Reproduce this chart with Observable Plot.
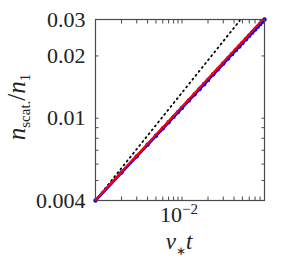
<!DOCTYPE html>
<html><head><meta charset="utf-8">
<script src="https://cdn.jsdelivr.net/npm/d3@7"></script>
<script src="https://cdn.jsdelivr.net/npm/@observablehq/plot@0.6"></script>
<style>body{margin:0;background:#fff}</style>
</head><body><div id="chart"></div>
<script>
// Blue series (simulation markers)
const blueT = [0.001,0.002,0.003,0.004,0.005,0.006,0.007,0.008,0.009,0.010,0.012,0.014,0.016,0.018,0.020,0.023,0.026,0.030,0.034,0.038,0.042,0.046,0.050,0.055,0.060,0.065,0.070,0.075,0.080,0.085,0.090];
const blueN = [0.00400,0.00546,0.00654,0.00744,0.00823,0.00893,0.00956,0.01015,0.01070,0.01122,0.01218,0.01305,0.01385,0.01460,0.01531,0.01630,0.01722,0.01836,0.01942,0.02041,0.02134,0.02223,0.02308,0.02408,0.02504,0.02596,0.02683,0.02767,0.02848,0.02927,0.03000];
// Red fit line
const redT = [0.001, 0.086];
const redN = [0.00402, 0.03000];
// Black dotted reference line
const dotT = [0.001, 0.0465];
const dotN = [0.00400, 0.02960];
// Ticks
const xMinorTicks = [0.002,0.003,0.004,0.005,0.006,0.007,0.008,0.009,0.02,0.03,0.04,0.05,0.06,0.07,0.08,0.09];
const xMajorTicks = [0.01];
const yMinorTicks = [0.005,0.006,0.007,0.008,0.009];
const yMajorTicks = [0.004,0.01,0.02,0.03];

const blue = blueT.map((t,i)=>({t, n: blueN[i]}));
const red = redT.map((t,i)=>({t, n: redN[i]}));
const dot = dotT.map((t,i)=>({t, n: dotN[i]}));

const serif = "Liberation Serif";
const axColor = "#4a4a4a";
const xAll = xMinorTicks.concat(xMajorTicks);
const yAll = yMinorTicks.concat(yMajorTicks);

const chart = Plot.plot({
  width: 291, height: 267,
  marginLeft: 95, marginRight: 27, marginTop: 19, marginBottom: 67,
  x: {type: "log", domain: [0.001, 0.09], label: null},
  y: {type: "log", domain: [0.004, 0.03], label: null},
  style: {background: "white", fontFamily: serif},
  marks: [
    Plot.line(dot, {x: "t", y: "n", stroke: "black", strokeWidth: 1.8, strokeDasharray: "1.2,3.8"}),
    Plot.line(blue, {x: "t", y: "n", stroke: "#0000ff", strokeWidth: 3}),
    Plot.dot(blue, {x: "t", y: "n", r: 2.2, fill: "#0000ff", stroke: null}),
    Plot.line(red, {x: "t", y: "n", stroke: "#ff0000", strokeWidth: 2.2}),
    Plot.frame({stroke: axColor, strokeWidth: 1.2}),
    Plot.axisX(xAll, {anchor: "bottom", tickSize: -3.5, tickFormat: () => "", stroke: axColor}),
    Plot.axisX(xAll, {anchor: "top", tickSize: -3.5, tickFormat: () => "", stroke: axColor}),
    Plot.axisY(yAll, {anchor: "left", tickSize: -3.5, tickFormat: () => "", stroke: axColor}),
    Plot.axisY(yAll, {anchor: "right", tickSize: -3.5, tickFormat: () => "", stroke: axColor}),
    Plot.axisY(yMajorTicks, {anchor: "left", tickSize: 0, tickPadding: 10, tickFormat: d => String(d), fontSize: 22, fontFamily: serif, fill: "#222"}),
    Plot.text(xMajorTicks, {x: d => d, frameAnchor: "bottom", dy: 21, text: () => "10", textAnchor: "end", fontSize: 22, fontFamily: serif, fill: "#222"}),
    Plot.text(xMajorTicks, {x: d => d, frameAnchor: "bottom", dy: 13, text: () => "\u22122", textAnchor: "start", fontSize: 15, fontFamily: serif, fill: "#222"})
  ]
});
document.getElementById("chart").appendChild(chart);

const svg = d3.select(chart);
// x label: ν* t
const xl = svg.append("text").attr("x", 179).attr("y", 249).attr("text-anchor", "middle")
  .attr("font-family", serif).attr("font-size", 23).attr("fill", "#222");
xl.append("tspan").attr("font-style", "italic").text("\u03bd");
xl.append("tspan").attr("font-size", 12).attr("dy", 6).text("\u2217");
xl.append("tspan").attr("font-style", "italic").attr("dy", -6).text("t");
// y label: n_scat. / n_1
const yl = svg.append("text").attr("transform", "translate(25,107) rotate(-90)").attr("text-anchor", "middle")
  .attr("font-family", serif).attr("font-size", 25).attr("fill", "#222");
yl.append("tspan").attr("font-style", "italic").text("n");
yl.append("tspan").attr("font-size", 15).attr("dy", 5).text("scat.");
yl.append("tspan").attr("dy", -5).text("/");
yl.append("tspan").attr("font-style", "italic").text("n");
yl.append("tspan").attr("font-size", 15).attr("dy", 5).text("1");
</script>
</body></html>
